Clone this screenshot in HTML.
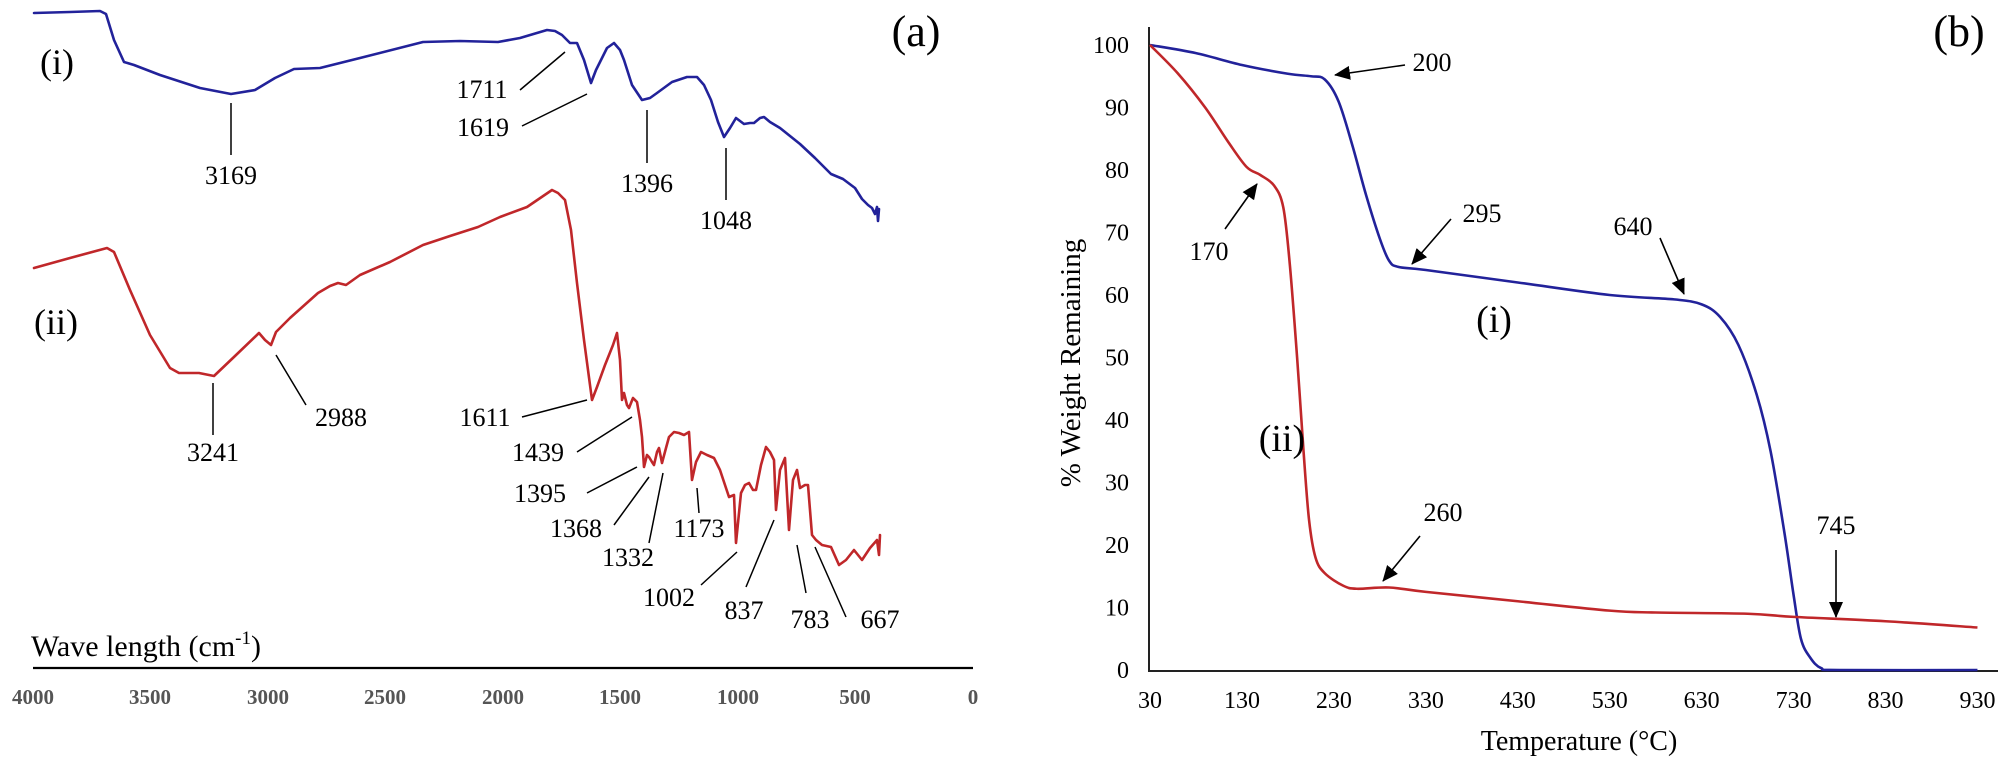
<!DOCTYPE html>
<html><head><meta charset="utf-8"><style>
html,body{margin:0;padding:0;background:#fff;}
svg{display:block;font-family:"Liberation Serif",serif;}
</style></head><body>
<svg id="s" width="2007" height="771" viewBox="0 0 2007 771" xmlns="http://www.w3.org/2000/svg">
<!-- Panel (a) -->
<g fill="none" stroke-linejoin="round" stroke-linecap="round">
<polyline stroke="#22229a" stroke-width="2.6" points="34,13 70,12 100,11 106,14 114,40 124,62 134,65 160,75 200,88 231,94 255,90 275,78 294,69 320,68 360,58 423,42 460,41 498,42 520,38 547,30 555,31 562,35 570,43 577,43 584,60 591,83 596,70 600,62 607,48 614,43 620,50 624,60 632,85 642,100 650,98 657,93 672,82 687,77 697,77 704,85 711,100 718,122 724,137 730,128 736,118 740,121 744,124 750,123 754,123 760,118 764,117 770,122 780,128 800,144 815,158 831,174 843,179 855,188 862,199 868,205 872,208 875,214 877,207 878,221 879,209"/>
<polyline stroke="#c0272a" stroke-width="2.6" points="34,268 70,258 107,248 114,252 130,290 150,335 170,368 179,373 199,373 214,376 235,356 259,333 265,340 271,345 276,332 290,318 318,293 330,286 338,283 346,285 360,275 390,262 423,245 450,236 478,227 500,217 527,207 552,190 558,193 565,200 571,230 577,283 584,340 590,385 592,400 597,387 605,365 613,345 617,333 620,360 622,400 624,393 627,405 629,408 633,398 637,402 640,420 642,437 644,467 647,455 649,457 652,462 654,465 657,452 659,448 662,463 666,448 669,437 674,432 679,433 684,435 689,432 692,480 696,462 701,452 707,455 714,458 720,470 729,497 734,495 736,543 741,493 745,485 749,483 753,490 756,490 761,465 766,447 770,452 774,460 776,510 780,470 785,458 789,530 793,480 797,470 800,488 805,485 808,485 812,535 816,540 822,545 831,547 839,565 846,560 854,550 858,555 862,560 870,548 877,540 879,555 880,535"/>
</g>
<g stroke="#000" stroke-width="1.5" fill="none">
<line x1="231" y1="103" x2="231" y2="155"/>
<line x1="520" y1="90" x2="565" y2="52"/>
<line x1="522" y1="126" x2="587" y2="94"/>
<line x1="647" y1="110" x2="647" y2="163"/>
<line x1="726" y1="148" x2="726" y2="200"/>
<line x1="213" y1="383" x2="213" y2="435"/>
<line x1="276" y1="355" x2="306" y2="405"/>
<line x1="522" y1="417" x2="587" y2="400"/>
<line x1="577" y1="452" x2="632" y2="417"/>
<line x1="587" y1="493" x2="637" y2="467"/>
<line x1="614" y1="525" x2="649" y2="477"/>
<line x1="649" y1="543" x2="663" y2="473"/>
<line x1="699" y1="513" x2="697" y2="488"/>
<line x1="701" y1="585" x2="737" y2="552"/>
<line x1="746" y1="587" x2="774" y2="520"/>
<line x1="806" y1="593" x2="797" y2="545"/>
<line x1="846" y1="617" x2="815" y2="547"/>
</g>
<line x1="33" y1="668" x2="973" y2="668" stroke="#000" stroke-width="2.2"/>
<g font-size="26" fill="#000" text-anchor="middle">
<text x="231" y="184">3169</text>
<text x="482" y="98">1711</text>
<text x="483" y="136">1619</text>
<text x="647" y="192">1396</text>
<text x="726" y="229">1048</text>
<text x="213" y="461">3241</text>
<text x="341" y="426">2988</text>
<text x="485" y="426">1611</text>
<text x="538" y="461">1439</text>
<text x="540" y="502">1395</text>
<text x="576" y="537">1368</text>
<text x="628" y="566">1332</text>
<text x="699" y="537">1173</text>
<text x="669" y="606">1002</text>
<text x="744" y="619">837</text>
<text x="810" y="628">783</text>
<text x="880" y="628">667</text>
</g>
<text x="57" y="74" font-size="36" text-anchor="middle">(i)</text>
<text x="56" y="334" font-size="36" text-anchor="middle">(ii)</text>
<text x="916" y="46" font-size="44" text-anchor="middle">(a)</text>
<text x="31" y="656" font-size="30">Wave length (cm<tspan font-size="19" dy="-12">-1</tspan><tspan dy="12">)</tspan></text>
<g font-size="21" font-weight="bold" fill="#555" text-anchor="middle">
<text x="33" y="704">4000</text><text x="150" y="704">3500</text><text x="268" y="704">3000</text>
<text x="385" y="704">2500</text><text x="503" y="704">2000</text><text x="620" y="704">1500</text>
<text x="738" y="704">1000</text><text x="855" y="704">500</text><text x="973" y="704">0</text>
</g>
<!-- Panel (b) -->
<line x1="1149" y1="27" x2="1149" y2="672" stroke="#222" stroke-width="2"/>
<line x1="1149" y1="671" x2="1998" y2="671" stroke="#222" stroke-width="2"/>
<g id="yt" font-size="24" text-anchor="end"></g>
<g id="xt" font-size="24" text-anchor="middle"></g>
<path id="pb" fill="none" stroke="#22229a" stroke-width="2.6"/>
<path id="pr" fill="none" stroke="#c0272a" stroke-width="2.6"/>
<defs><marker id="ah" markerWidth="10" markerHeight="10" refX="9" refY="5" orient="auto" markerUnits="userSpaceOnUse"><path d="M0,0 L10,5 L0,10 z" fill="#000"/></marker>
<marker id="ah2" markerWidth="16" markerHeight="14" refX="15" refY="7" orient="auto" markerUnits="userSpaceOnUse"><path d="M0,0 L16,7 L0,14 z" fill="#000"/></marker></defs>
<g stroke="#000" stroke-width="1.6" marker-end="url(#ah2)">
<line x1="1405" y1="65" x2="1335" y2="75"/>
<line x1="1451" y1="219" x2="1412" y2="264"/>
<line x1="1660" y1="238" x2="1684" y2="294"/>
<line x1="1225" y1="229" x2="1257" y2="184"/>
<line x1="1420" y1="536" x2="1383" y2="581"/>
<line x1="1836" y1="550" x2="1836" y2="617"/>
</g>
<g font-size="26" text-anchor="middle">
<text x="1432" y="71">200</text>
<text x="1482" y="222">295</text>
<text x="1633" y="235">640</text>
<text x="1209" y="260">170</text>
<text x="1443" y="521">260</text>
<text x="1836" y="534">745</text>
</g>
<text x="1494" y="332" font-size="38" text-anchor="middle">(i)</text>
<text x="1282" y="451" font-size="38" text-anchor="middle">(ii)</text>
<text x="1959" y="46" font-size="44" text-anchor="middle">(b)</text>
<text x="1579" y="750" font-size="28" text-anchor="middle">Temperature (°C)</text>
<text transform="translate(1080,363) rotate(-90)" font-size="29" text-anchor="middle">% Weight Remaining</text>
</svg>
<script>
var X=function(t){return 1150+(t-30)*0.9194;},Y=function(p){return 45+(100-p)*6.25;};
var yt=document.getElementById('yt'),xt=document.getElementById('xt'),ns='http://www.w3.org/2000/svg';
for(var i=0;i<=10;i++){var e=document.createElementNS(ns,'text');e.setAttribute('x',1129);e.setAttribute('y',Y(i*10)+8);e.textContent=i*10;yt.appendChild(e);}
for(var t=30;t<=930;t+=100){var e=document.createElementNS(ns,'text');e.setAttribute('x',X(t));e.setAttribute('y',708);e.textContent=t;xt.appendChild(e);}
function path(d){var p=d.map(function(a){return [X(a[0]),Y(a[1])];});var s='M'+p[0][0]+','+p[0][1];
for(var i=0;i<p.length-1;i++){var p0=p[i-1]||p[i],p1=p[i],p2=p[i+1],p3=p[i+2]||p2;
s+=' C'+(p1[0]+(p2[0]-p0[0])/6)+','+(p1[1]+(p2[1]-p0[1])/6)+' '+(p2[0]-(p3[0]-p1[0])/6)+','+(p2[1]-(p3[1]-p1[1])/6)+' '+p2[0]+','+p2[1];}return s;}
var B=[[30,100],[80,98.7],[130,96.8],[180,95.4],[205,95],[220,94.5],[235,91],[250,84],[265,76],[280,69],[290,65.5],[300,64.5],[330,64],[430,62],[530,60],[600,59.3],[630,58.5],[650,56.5],[670,52],[690,44],[705,35],[720,22],[730,12],[738,5],[748,2],[760,0.3],[780,0],[930,0]];
var R=[[30,100],[60,95.5],[90,90],[115,84.5],[135,80.5],[150,79.2],[165,77.5],[175,74],[182,65],[190,50],[197,35],[203,24],[210,18],[220,15.5],[240,13.5],[255,13],[290,13.2],[330,12.5],[430,11],[530,9.5],[580,9.2],[680,9],[730,8.5],[830,7.8],[930,6.8]];
document.getElementById('pb').setAttribute('d',path(B));
document.getElementById('pr').setAttribute('d',path(R));
</script>
</body></html>
